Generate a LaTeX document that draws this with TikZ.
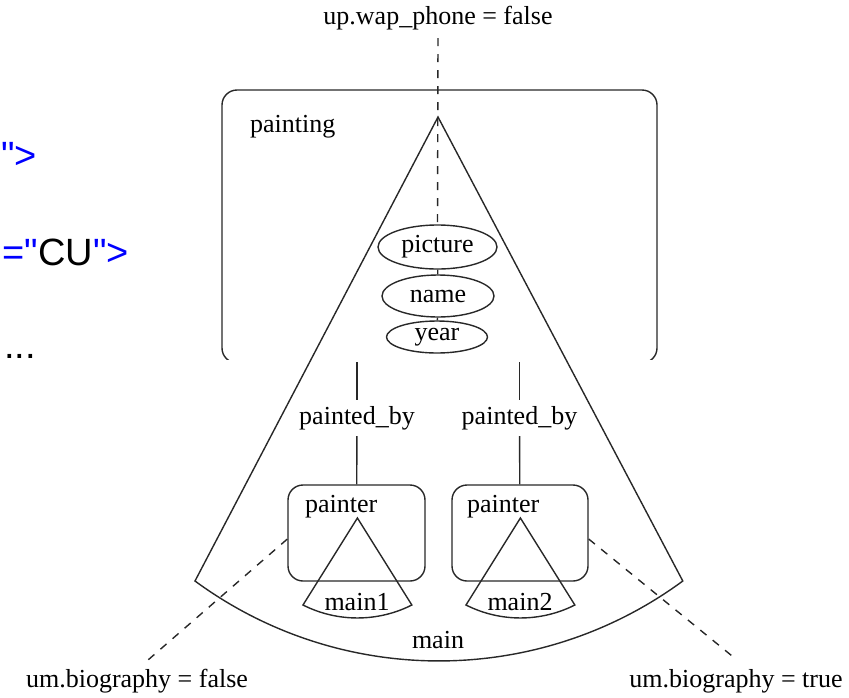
\documentclass[tikz,border=0pt]{standalone}
\usepackage{fontspec}
\setmainfont{Liberation Serif}
\newfontfamily\arialf{Liberation Sans}
\usetikzlibrary{shapes.geometric}
\definecolor{codeblue}{RGB}{0,0,255}
\definecolor{lncol}{RGB}{40,40,40}
\tikzset{
  lbl/.style={font=\fontsize{26}{30}\selectfont, inner sep=0pt, text=black},
  codetxt/.style={font=\arialf\fontsize{38}{44}\selectfont, inner sep=0pt, anchor=base east},
  ln/.style={line width=1.4pt, draw=lncol},
  dashln/.style={ln, dash pattern=on 8pt off 8pt},
  rbox/.style={ln, rounded corners=15pt, inner sep=0pt},
  oval/.style={ln, ellipse, inner sep=0pt, font=\fontsize{26}{30}\selectfont},
  pbl/.style={lbl, inner ysep=6pt, inner xsep=2pt}
}
\begin{document}
\begin{tikzpicture}[x=1pt,y=-1pt]
\useasboundingbox (0,0) rectangle (849,697);

% code fragments on the left
\node[codetxt] (c1) at (37,168) {\textcolor{codeblue}{"{}>}};
\node[codetxt] (c2) at (129,265) {\textcolor{codeblue}{="}CU\textcolor{codeblue}{"{}>}};
\node[codetxt] (c3) at (36,358) {...};

% painting box (cut off at the bottom)
\begin{scope}
  \clip (0,0) rectangle (849,359);
  \node[rbox, draw, minimum width=435pt, minimum height=273pt] (painting) at (439.5,226.5) {};
\end{scope}
\node[lbl, anchor=west] (paintinglbl) at (250,127) {painting};

% big sector "main"
\coordinate (apex) at (438,117);
\draw[ln] (apex) -- (195,581) arc[start angle=126.3, end angle=53.7, radius=412] -- cycle;
\node[lbl] (mainlbl) at (438,640) {main};

% top label and dashed link
\node[lbl] (wap) at (438,18) {up.wap\_phone = false};
\node[oval, minimum width=119pt, minimum height=44pt] (pic) at (437.5,247) {picture};
\node[oval, minimum width=112pt, minimum height=42pt] (nam) at (438,296) {name};
\node[oval, minimum width=101pt, minimum height=32pt] (yr) at (437,337) {year};
\draw[dashln] ([yshift=-8pt]wap.south) -- (pic.north);
\draw[ln] (pic) -- (nam);
\draw[ln] (nam) -- (yr);

% painted_by links
\coordinate (t1) at (357,362);
\coordinate (t2) at (519.5,362);
\node[pbl] (pb1) at (357,418) {painted\_by};
\node[pbl] (pb2) at (519.5,418) {painted\_by};

% painter boxes
\node[rbox, draw, minimum width=137pt, minimum height=96pt] (p1) at (356.5,533) {};
\node[rbox, draw, minimum width=136pt, minimum height=96pt] (p2) at (520,533) {};
\node[lbl, anchor=west] (pl1) at (305,507) {painter};
\node[lbl, anchor=west] (pl2) at (467,507) {painter};
\draw[ln] (t1) -- (pb1);
\draw[ln] (pb1) -- (p1);
\draw[ln] (t2) -- (pb2);
\draw[ln] (pb2) -- (p2);

% small sectors
\coordinate (a1) at (357.4,518);
\coordinate (a2) at (520.4,518);
\draw[ln] (a1) -- (303,605) arc[start angle=116.8, end angle=63.2, radius=120.7] -- cycle;
\draw[ln] (a2) -- (466,605) arc[start angle=116.8, end angle=63.2, radius=120.7] -- cycle;
\node[lbl] (m1) at (357,602) {main1};
\node[lbl] (m2) at (520,602) {main2};

% bottom labels and dashed links
\node[lbl] (ub1) at (137,681) {um.biography = false};
\node[lbl] (ub2) at (736,681) {um.biography = true};
\coordinate (e1) at (148,660);
\coordinate (e2) at (737,660);
\draw[dashln] (p1.185) -- (e1);
\draw[dashln] (p2.355) -- (e2);
\end{tikzpicture}
\end{document}
